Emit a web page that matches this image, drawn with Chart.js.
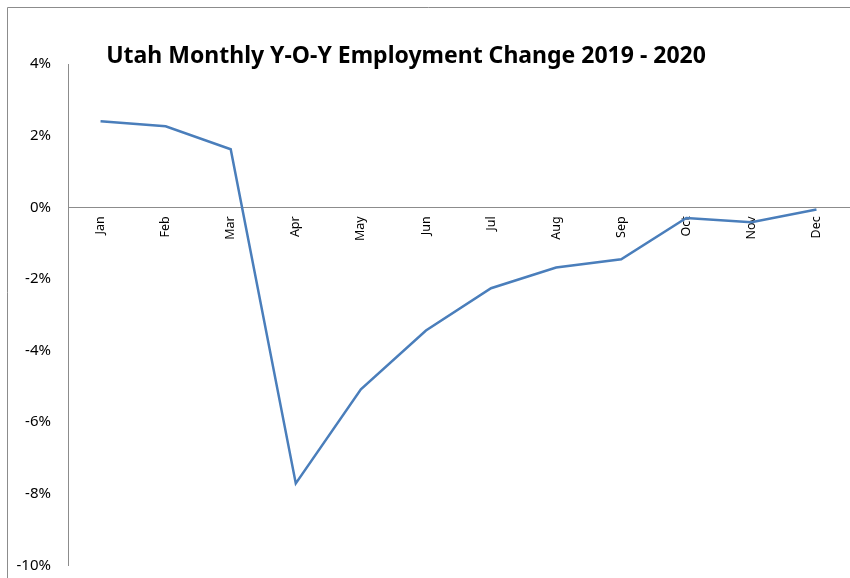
<!DOCTYPE html>
<html>
<head>
<meta charset="utf-8">
<script src="https://cdn.jsdelivr.net/npm/chart.js@4"></script>
<style>
  html, body { margin: 0; padding: 0; background: #fff; }
  #wrap { width: 850px; height: 578px; position: relative; }
</style>
</head>
<body>
<div id="wrap"><canvas id="jobChart" width="850" height="578"></canvas></div>
<script>
const chartTitle = 'Utah Monthly Y-O-Y Employment Change 2019 - 2020';
const months = ['Jan', 'Feb', 'Mar', 'Apr', 'May', 'Jun', 'Jul', 'Aug', 'Sep', 'Oct', 'Nov', 'Dec'];
const yoyChange = [2.40, 2.26, 1.62, -7.71, -5.08, -3.44, -2.26, -1.68, -1.45, -0.30, -0.42, -0.06];
const yTicks = [4, 2, 0, -2, -4, -6, -8, -10];

// frame (top + left edge) and the title, drawn on the canvas
const framePlugin = {
    id: 'frame',
    beforeDraw(chart) {
        const ctx = chart.ctx;
        ctx.save();
        ctx.strokeStyle = '#8c8c8c';
        ctx.lineWidth = 1;
        ctx.beginPath();
        ctx.moveTo(7.5, chart.height);
        ctx.lineTo(7.5, 7.5);
        ctx.lineTo(chart.width, 7.5);
        ctx.stroke();

        // fit the title to the width seen in the picture
        let size = 26;
        ctx.font = `bold ${size}px "Noto Sans"`;
        while (size > 12 && ctx.measureText(chartTitle).width > 606) {
            size -= 0.5;
            ctx.font = `bold ${size}px "Noto Sans"`;
        }
        ctx.fillStyle = '#000';
        ctx.textAlign = 'center';
        ctx.textBaseline = 'alphabetic';
        ctx.fillText(chartTitle, 406, 63);
        ctx.restore();
    }
};

const ctx = document.getElementById('jobChart').getContext('2d');
new Chart(ctx, {
    type: 'line',
    data: {
        labels: months,
        datasets: [{
            data: yoyChange,
            borderColor: '#4a7ebb',
            borderWidth: 2.5,
            pointRadius: 0,
            tension: 0,
            fill: false
        }]
    },
    options: {
        responsive: false,
        animation: false,
        layout: { padding: { top: 64, bottom: 12.5, left: 0, right: 1 } },
        plugins: {
            legend: { display: false },
            tooltip: { enabled: false },
            title: { display: false }
        },
        scales: {
            x: {
                type: 'category',
                position: { y: 0 },
                offset: true,
                grid: { display: false, drawTicks: false },
                border: { display: true, color: '#8c8c8c', width: 1 },
                ticks: {
                    minRotation: 90,
                    maxRotation: 90,
                    padding: 9,
                    color: '#000',
                    font: { family: '"Noto Sans"', size: 12.5 }
                },
                afterFit: s => { s.height = 0; }
            },
            y: {
                min: -10,
                max: 4,
                grid: { display: false, drawTicks: false },
                border: { display: true, color: '#8c8c8c', width: 1 },
                afterBuildTicks: s => { s.ticks = yTicks.map(v => ({ value: v })); },
                ticks: {
                    padding: 17,
                    color: '#000',
                    font: { family: '"Noto Sans"', size: 15 },
                    callback: v => v + '%'
                },
                afterFit: s => {
                    s.width = 68;
                    s.paddingTop = 0;
                    s.paddingBottom = 0;
                }
            }
        }
    },
    plugins: [framePlugin]
});
</script>
</body>
</html>
